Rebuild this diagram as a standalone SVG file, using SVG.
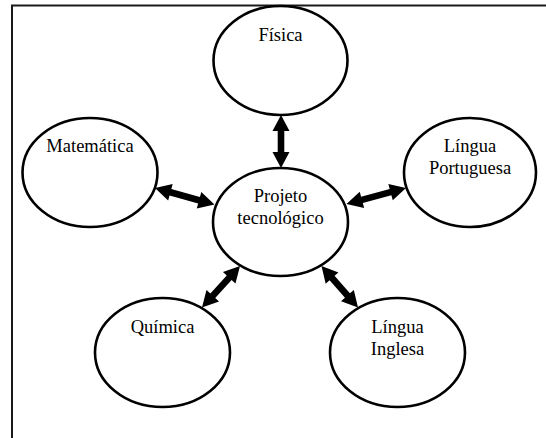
<svg xmlns="http://www.w3.org/2000/svg" width="546" height="438" viewBox="0 0 546 438">
  <style>
    .node ellipse { fill: #ffffff; stroke: #000000; stroke-width: 2.6; }
    .node text { font-family: "Liberation Serif", "Times New Roman", serif; font-size: 18.5px; fill: #000000; text-anchor: middle; }
    .arrow { fill: #000000; stroke: none; }
    .frame { fill: none; stroke: #1a1a1a; stroke-width: 2; }
  </style>
  <rect width="546" height="438" fill="#ffffff"/>
  <path class="frame" d="M12,438 L12,5.5 L546,5.5"/>

  <g id="connectors">
    <path class="arrow" transform="translate(281,115) rotate(90)" d="M0,0 L16,-8.5 L16,-3.3 L37,-3.3 L37,-8.5 L53,0 L37,8.5 L37,3.3 L16,3.3 L16,8.5 Z"/>
    <path class="arrow" transform="translate(155,188) rotate(15.5)" d="M0,0 L16,-8.5 L16,-3.3 L45.7,-3.3 L45.7,-8.5 L61.7,0 L45.7,8.5 L45.7,3.3 L16,3.3 L16,8.5 Z"/>
    <path class="arrow" transform="translate(346.5,204) rotate(-15.05)" d="M0,0 L16,-8.5 L16,-3.3 L45.6,-3.3 L45.6,-8.5 L61.6,0 L45.6,8.5 L45.6,3.3 L16,3.3 L16,8.5 Z"/>
    <path class="arrow" transform="translate(240,266) rotate(132.5)" d="M0,0 L16,-8.5 L16,-3.3 L40.3,-3.3 L40.3,-8.5 L56.3,0 L40.3,8.5 L40.3,3.3 L16,3.3 L16,8.5 Z"/>
    <path class="arrow" transform="translate(321.5,266) rotate(48.7)" d="M0,0 L16,-8.5 L16,-3.3 L39.3,-3.3 L39.3,-8.5 L55.3,0 L39.3,8.5 L39.3,3.3 L16,3.3 L16,8.5 Z"/>
  </g>

  <g id="fisica" class="node">
    <ellipse cx="280.5" cy="60.5" rx="67" ry="54.5"/>
    <text x="280.5" y="41">Física</text>
  </g>
  <g id="matematica" class="node">
    <ellipse cx="90" cy="172.5" rx="67.5" ry="54.5"/>
    <text x="90" y="152">Matemática</text>
  </g>
  <g id="projeto" class="node">
    <ellipse cx="280.5" cy="222" rx="67.5" ry="54"/>
    <text x="280.5" y="202">Projeto</text>
    <text x="280.5" y="223.5">tecnológico</text>
  </g>
  <g id="portuguesa" class="node">
    <ellipse cx="470" cy="172.5" rx="66" ry="54.5"/>
    <text x="470" y="152">Língua</text>
    <text x="470" y="173.5">Portuguesa</text>
  </g>
  <g id="quimica" class="node">
    <ellipse cx="162.5" cy="352.5" rx="67.5" ry="54.5"/>
    <text x="162.5" y="333">Química</text>
  </g>
  <g id="inglesa" class="node">
    <ellipse cx="397.5" cy="352.5" rx="67.5" ry="54.5"/>
    <text x="397.5" y="333">Língua</text>
    <text x="397.5" y="354.5">Inglesa</text>
  </g>
</svg>
